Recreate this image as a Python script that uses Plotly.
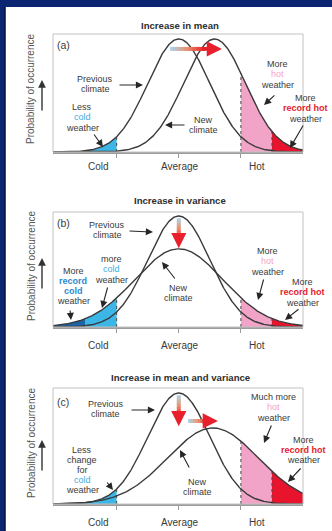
import numpy as np
import plotly.graph_objects as go

W, H = 332, 531

# ---- chart content -------------------------------------------------------
panel_titles = ["Increase in mean", "Increase in variance", "Increase in mean and variance"]
panel_tags = ["(a)", "(b)", "(c)"]
tick_labels = ["Cold", "Average", "Hot"]
tick_label_x = [-2.57, 0.04, 2.52]          # label centres, in standard deviations

# temperature distributions (mean, standard deviation), one entry per panel
prev_mean = [0.0, 0.0, 0.0]
prev_sd = [1.0, 1.0, 1.0]
new_mean = [1.15, 0.0, 1.1]
new_sd = [1.0, 1.42, 1.46]

cold_limit = -2.0
record_cold_limit = -3.0
hot_limit = 2.0
record_hot_limit = 3.0

# ---- colours -------------------------------------------------------------
BLUE_BG = "#0b2572"
CURVE = "#3a3a3a"
TXT = "#3a3a3a"
LIGHT_BLUE = "#3cb6e6"
DARK_BLUE = "#1c64a8"
PINK = "#f2a4c8"
RED = "#e8142e"
COLD_TXT = "#3aaee2"
RCOLD_TXT = "#2a8ad2"
HOT_TXT = "#f4a2c4"
RHOT_TXT = "#e4202e"
FONT = "Liberation Sans, Arial, sans-serif"

X_RANGE = [-4.05, 4.0]
BOX_L, BOX_R = 53, 303
BOX_TOP = [34, 212, 388]
BOX_BOT = [152, 327, 504]
Y_TOP = [1.044, 1.036, 1.045]

LABEL_SIZE = 9.0
LINE_GAP = 10.2


def pdf(x, m, s):
    return np.exp(-0.5 * ((x - m) / s) ** 2) / s


def px(x):
    return x / W


def py(y):
    return 1 - y / H


fig = go.Figure()
annotations = []
shapes = []

# white page on the dark blue slide
shapes.append(dict(type="rect", xref="paper", yref="paper", x0=px(5), x1=1.0,
                   y0=0, y1=py(7), fillcolor="white", line=dict(width=0), layer="below"))
shapes.append(dict(type="line", xref="paper", yref="paper", x0=px(5), x1=px(5),
                   y0=0, y1=py(7), line=dict(color="#061236", width=1.5), layer="below"))

xg = np.linspace(X_RANGE[0], X_RANGE[1], 500)


def fill_area(k, a, b, m, s, color):
    xs = np.linspace(a, b, 120)
    ys = pdf(xs, m, s)
    fig.add_trace(go.Scatter(
        x=np.concatenate([[a], xs, [b]]), y=np.concatenate([[0], ys, [0]]),
        fill="toself", fillcolor=color, mode="lines", line=dict(width=0),
        xaxis=f"x{k}", yaxis=f"y{k}", hoverinfo="skip", showlegend=False))


def dotted(k, xv, m, s):
    fig.add_trace(go.Scatter(
        x=[xv, xv], y=[0, pdf(xv, m, s)], mode="lines",
        line=dict(color="#4a4a4a", width=1, dash="dot"),
        xaxis=f"x{k}", yaxis=f"y{k}", hoverinfo="skip", showlegend=False))


def mix(c0, c1, t):
    a = [int(c0[i:i + 2], 16) for i in (1, 3, 5)]
    b = [int(c1[i:i + 2], 16) for i in (1, 3, 5)]
    return "rgb(%d,%d,%d)" % tuple(round(a[j] + (b[j] - a[j]) * t) for j in range(3))


def shift_arrow(k, x0, y0, x1, y1):
    """Thick arrow fading from pale blue through orange to red."""
    stops = ["#a6d6ee", "#e8906a", "#e8202c"]
    n = 14
    frac = 0.66
    for i in range(n):
        t0, t1 = i / n * frac, (i + 1) / n * frac
        t = (t0 + t1) / 2 / frac
        c = mix(stops[0], stops[1], t * 2) if t < 0.5 else mix(stops[1], stops[2], (t - 0.5) * 2)
        fig.add_trace(go.Scatter(
            x=[x0 + (x1 - x0) * t0, x0 + (x1 - x0) * (t1 + 0.01)],
            y=[y0 + (y1 - y0) * t0, y0 + (y1 - y0) * (t1 + 0.01)],
            mode="lines", line=dict(color=c, width=4),
            xaxis=f"x{k}", yaxis=f"y{k}", hoverinfo="skip", showlegend=False))
    annotations.append(dict(
        x=x1, y=y1, xref=f"x{k}", yref=f"y{k}",
        ax=x0 + (x1 - x0) * 0.6, ay=y0 + (y1 - y0) * 0.6,
        axref=f"x{k}", ayref=f"y{k}", text="", showarrow=True,
        arrowhead=2, arrowsize=0.8, arrowwidth=3.8, arrowcolor="#e8202c"))


def text_lines(lines, cx, y0, gap=9.4):
    """Stack short label lines, keeping the block centred where it sits in the figure."""
    n = len(lines)
    mid = y0 + (n - 1) * gap / 2
    for i, ln in enumerate(lines):
        annotations.append(dict(
            x=px(cx), y=py(mid + (i - (n - 1) / 2) * LINE_GAP), xref="paper", yref="paper",
            text=ln, showarrow=False, xanchor="center", yanchor="middle", borderpad=0,
            font=dict(family=FONT, size=LABEL_SIZE, color=TXT)))


def pointer(head, tail):
    annotations.append(dict(
        x=px(head[0]), y=py(head[1]), xref="paper", yref="paper",
        ax=tail[0] - head[0], ay=tail[1] - head[1], text="", showarrow=True,
        arrowhead=2, arrowsize=1.3, arrowwidth=1.1, arrowcolor="#262626"))


layout_axes = {}
for p in range(3):
    k = p + 1
    kk = "" if k == 1 else str(k)
    pm, ps, nm, ns = prev_mean[p], prev_sd[p], new_mean[p], new_sd[p]

    # shaded tails
    if p == 0:
        fill_area(k, X_RANGE[0], cold_limit, pm, ps, LIGHT_BLUE)
    elif p == 1:
        fill_area(k, X_RANGE[0], record_cold_limit, nm, ns, DARK_BLUE)
        fill_area(k, record_cold_limit, cold_limit, nm, ns, LIGHT_BLUE)
    else:
        fill_area(k, X_RANGE[0], cold_limit, pm, ps, LIGHT_BLUE)
    fill_area(k, hot_limit, record_hot_limit, nm, ns, PINK)
    fill_area(k, record_hot_limit, X_RANGE[1], nm, ns, RED)

    # threshold markers
    if p == 1:
        dotted(k, cold_limit, nm, ns)
    else:
        dotted(k, cold_limit, pm, ps)
    dotted(k, hot_limit, nm, ns)
    dotted(k, record_hot_limit, nm, ns)

    # previous and new climate curves
    for m, s in ((pm, ps), (nm, ns)):
        fig.add_trace(go.Scatter(
            x=xg, y=pdf(xg, m, s), mode="lines", line=dict(color=CURVE, width=1.4),
            xaxis=f"x{k}", yaxis=f"y{k}", hoverinfo="skip", showlegend=False))

    layout_axes[f"xaxis{kk}"] = dict(
        domain=[px(BOX_L), px(BOX_R)], range=X_RANGE, anchor=f"y{kk}",
        showgrid=False, zeroline=False, showline=True, linecolor="#9c9c9c", linewidth=1.6,
        ticks="outside", tickvals=[-2, 0, 2], ticklen=4, tickcolor="#9c9c9c",
        showticklabels=False, fixedrange=True)
    layout_axes[f"yaxis{kk}"] = dict(
        domain=[py(BOX_BOT[p]), py(BOX_TOP[p])], range=[0, Y_TOP[p]], anchor=f"x{kk}",
        visible=False, fixedrange=True)

    # panel frame
    shapes.append(dict(type="rect", xref=f"x{kk} domain", yref=f"y{kk} domain",
                       x0=0, x1=1, y0=0, y1=1, line=dict(color="#c2c2c2", width=1)))

    # title, tag, tick labels
    annotations.append(dict(
        x=px(180), y=py([25, 201, 377][p]), xref="paper", yref="paper",
        text=f"<b>{panel_titles[p]}</b>", showarrow=False, xanchor="center", yanchor="middle",
        font=dict(family=FONT, size=9.6, color="#2e2e2e")))
    annotations.append(dict(
        x=px(55), y=py([45, 223, 402][p]), xref="paper", yref="paper",
        text=panel_tags[p], showarrow=False, xanchor="left", yanchor="middle",
        font=dict(family=FONT, size=10.5, color=TXT)))
    for lab, lx in zip(tick_labels, tick_label_x):
        annotations.append(dict(
            x=lx, y=py([167, 345, 522][p]), xref=f"x{k}", yref="paper",
            text=lab, showarrow=False, xanchor="center", yanchor="middle",
            font=dict(family=FONT, size=10, color=TXT)))

    # y-axis caption with its upward arrow
    annotations.append(dict(
        x=px(31), y=py([89, 266, 443][p]), xref="paper", yref="paper",
        text="Probability of occurrence", textangle=-90, showarrow=False,
        xanchor="center", yanchor="middle", font=dict(family=FONT, size=10, color="#555555")))
    ah = [80, 258, 440][p]
    annotations.append(dict(
        x=px(42), y=py(ah), xref="paper", yref="paper", ax=0, ay=32, text="",
        showarrow=True, arrowhead=2, arrowsize=1.1, arrowwidth=1.4, arrowcolor="#333333"))

# ---- shift arrows ----------------------------------------------------------
shift_arrow(1, -0.28, 0.912, 1.39, 0.912)
shift_arrow(2, 0.0, 0.98, 0.0, 0.71)
shift_arrow(3, 0.0, 0.98, 0.0, 0.70)
shift_arrow(3, 0.30, 0.748, 1.26, 0.748)

cold = f"<span style='color:{COLD_TXT}'>cold</span>"
hot = f"<span style='color:{HOT_TXT}'>hot</span>"
rhot = f"<b><span style='color:{RHOT_TXT}'>record hot</span></b>"
rcold = f"<b><span style='color:{RCOLD_TXT}'>record</span></b>"
rcold2 = f"<b><span style='color:{RCOLD_TXT}'>cold</span></b>"

# ---- panel (a) labels -------------------------------------------------------
text_lines(["Previous", "climate"], 95, 79, gap=10)
pointer((143, 85), (118, 85))
text_lines(["Less", cold, "weather"], 82, 108)
pointer((103, 147), (93, 133))
text_lines(["New", "climate"], 203, 120, gap=10.5)
pointer((165, 125), (186, 125))
text_lines(["More", hot, "weather"], 277, 65)
pointer((264, 105), (276, 94))
text_lines(["More", rhot, "weather"], 305, 99)
pointer((290, 148), (304, 124))

# ---- panel (b) labels -------------------------------------------------------
text_lines(["Previous", "climate"], 107, 225, gap=10)
pointer((153, 232), (128, 231))
text_lines(["more", cold, "weather"], 112, 260)
pointer((102, 308), (108, 286))
text_lines(["More", rcold, rcold2, "weather"], 73, 272)
pointer((71, 320), (70, 309))
text_lines(["New", "climate"], 178, 288, gap=9.6)
pointer((162, 262), (176, 280))
text_lines(["More", hot, "weather"], 267, 252)
pointer((258, 300), (264, 278))
text_lines(["More", rhot, "weather"], 302, 283)
pointer((285, 320), (300, 308))

# ---- panel (c) labels -------------------------------------------------------
text_lines(["Previous", "climate"], 106, 404, gap=9.6)
pointer((155, 410), (130, 410))
text_lines(["Less", "change", "for", cold, "weather"], 82, 452, gap=9)
pointer((113, 490), (106, 481))
text_lines(["New", "climate"], 197, 482, gap=10)
pointer((180, 450), (190, 469))
text_lines(["Much more", hot, "weather"], 273, 398)
pointer((264, 443), (272, 424))
text_lines(["More", rhot, "weather"], 303, 441, gap=9)
pointer((288, 482), (302, 467))

fig.update_layout(
    width=W, height=H, margin=dict(l=0, r=0, t=0, b=0),
    paper_bgcolor=BLUE_BG, plot_bgcolor="white",
    showlegend=False, annotations=annotations, shapes=shapes,
    font=dict(family=FONT, color=TXT),
    **layout_axes,
)

fig.write_html("out.html", config={"displayModeBar": False})
